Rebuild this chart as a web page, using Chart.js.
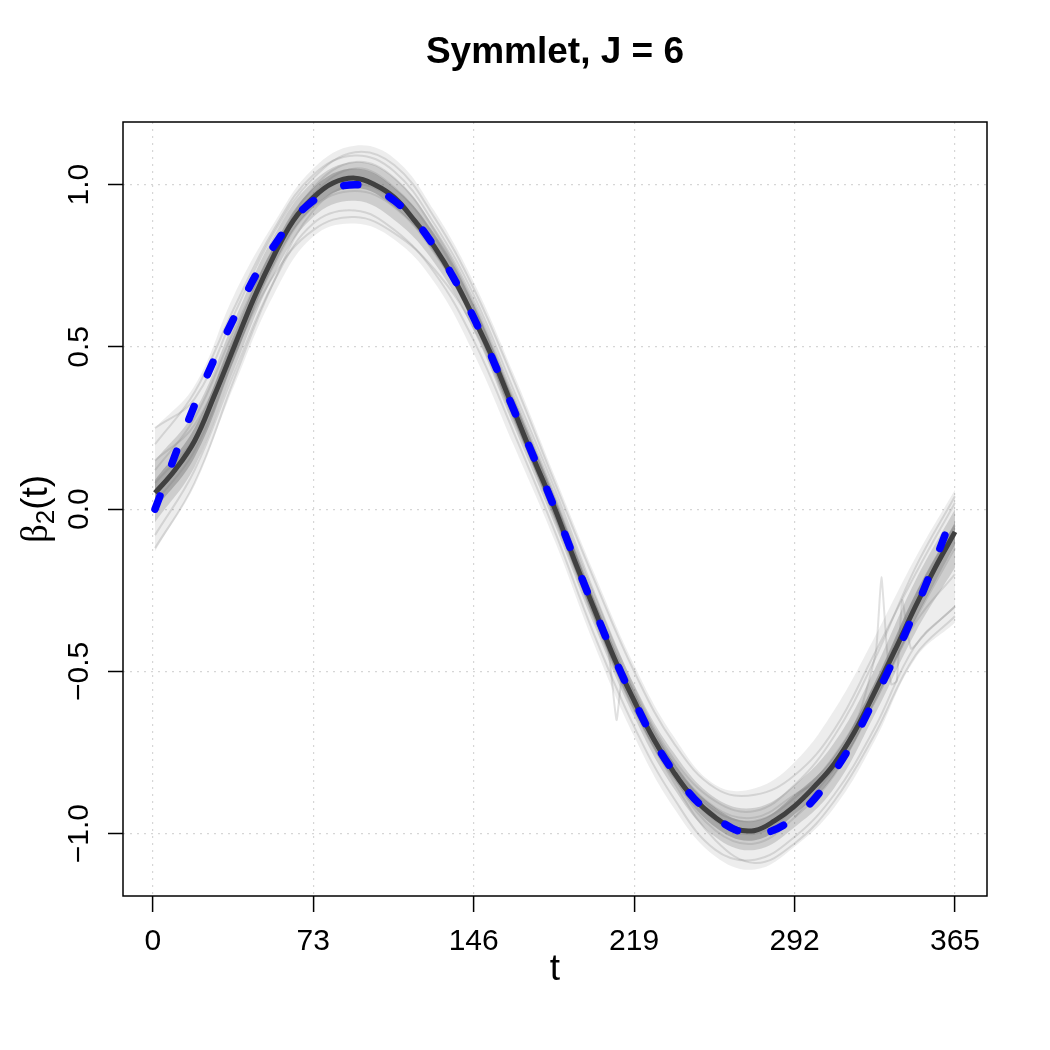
<!DOCTYPE html>
<html>
<head>
<meta charset="utf-8">
<script src="https://cdn.jsdelivr.net/npm/chart.js@4.4.0/dist/chart.umd.min.js"></script>
<style>
  html, body { margin: 0; padding: 0; background: #fff; }
  canvas { display: block; }
</style>
</head>
<body>
<canvas id="betaChart" width="1050" height="1050"></canvas>
<script>
// sample points along t (days)
const tGrid = [1, 19, 37, 55, 73, 92, 110, 128, 146, 164, 183, 201, 219, 237, 256, 274, 292, 310, 328, 347, 365];
const tFine = [1, 10, 19, 28, 37, 46, 55, 64, 73, 82, 92, 101, 110, 119, 128, 137, 146, 155, 164, 173, 183,
               192, 201, 210, 219, 228, 237, 246, 256, 265, 274, 283, 292, 301, 310, 319, 328, 338, 347, 356, 365];
const xTicks = [0, 73, 146, 219, 292, 365];
const yTicks = [-1.0, -0.5, 0.0, 0.5, 1.0];

// true beta_2(t), blue dashed (on tGrid)
const trueBeta = [0.00, 0.32, 0.59, 0.81, 0.95, 1.00, 0.95, 0.81, 0.59, 0.31, 0.00, -0.31, -0.59, -0.81, -0.95, -1.00, -0.95, -0.81, -0.59, -0.31, 0.00];
// mean of the estimates, dark grey (on tFine)
const meanBeta = [0.05, 0.12, 0.21, 0.35, 0.50, 0.65, 0.78, 0.89, 0.96, 1.005, 1.02, 1.00, 0.96, 0.89, 0.81, 0.71, 0.59, 0.46, 0.31, 0.16, 0.00,
                  -0.16, -0.31, -0.46, -0.59, -0.71, -0.81, -0.89, -0.95, -0.985, -0.99, -0.96, -0.915, -0.855, -0.785, -0.69, -0.57, -0.43, -0.30, -0.18, -0.07];

// spread of the replicate estimates (outer / middle / inner), on tGrid
const outerUpper = [0.25, 0.38, 0.66, 0.88, 1.05, 1.12, 1.08, 0.92, 0.70, 0.42, 0.10, -0.20, -0.48, -0.70, -0.85, -0.86, -0.78, -0.62, -0.40, -0.15, 0.06];
const outerLower = [-0.13, 0.08, 0.38, 0.66, 0.84, 0.88, 0.83, 0.70, 0.48, 0.20, -0.10, -0.42, -0.70, -0.92, -1.07, -1.11, -1.04, -0.92, -0.72, -0.46, -0.35];
const midUpper = [0.15, 0.30, 0.58, 0.84, 1.01, 1.07, 1.02, 0.87, 0.65, 0.36, 0.05, -0.26, -0.54, -0.75, -0.89, -0.92, -0.85, -0.72, -0.50, -0.22, 0.00];
const midLower = [-0.04, 0.13, 0.43, 0.72, 0.90, 0.95, 0.89, 0.76, 0.55, 0.26, -0.05, -0.36, -0.64, -0.86, -1.01, -1.05, -0.98, -0.86, -0.64, -0.38, -0.18];
const innerUpper = [0.09, 0.25, 0.54, 0.81, 0.99, 1.05, 0.99, 0.85, 0.63, 0.34, 0.03, -0.28, -0.56, -0.78, -0.92, -0.96, -0.88, -0.76, -0.54, -0.26, -0.04];
const innerLower = [0.00, 0.16, 0.46, 0.75, 0.93, 0.99, 0.93, 0.79, 0.57, 0.28, -0.03, -0.34, -0.62, -0.83, -0.98, -1.02, -0.94, -0.82, -0.60, -0.34, -0.11];

// a few individual replicate curves
const rep1 = [0.20, 0.36, 0.62, 0.86, 1.03, 1.09, 1.04, 0.88, 0.66, 0.37, 0.06, -0.26, -0.55, -0.77, -0.90, -0.93, -0.85, -0.70, -0.47, -0.18, 0.04];
const rep2 = [-0.08, 0.12, 0.42, 0.70, 0.88, 0.92, 0.86, 0.73, 0.52, 0.24, -0.07, -0.39, -0.67, -0.89, -1.05, -1.08, -1.01, -0.88, -0.68, -0.42, -0.30];
const rep3 = [0.12, 0.28, 0.55, 0.80, 0.97, 1.05, 0.99, 0.84, 0.62, 0.33, 0.02, -0.29, -0.58, -0.79, -0.93, -0.96, -0.89, -0.76, -0.55, -0.27, -0.05];
const rep4 = [0.02, 0.18, 0.47, 0.75, 0.93, 0.98, 0.93, 0.79, 0.58, 0.29, -0.03, -0.34, -0.62, -0.83, -0.99, -1.03, -0.95, -0.82, -0.60, -0.34, -0.12];
const rep5 = [0.25, 0.34, 0.60, 0.85, 1.02, 1.10, 1.06, 0.90, 0.68, 0.40, 0.08, -0.22, -0.50, -0.72, -0.86, -0.88, -0.82, -0.68, -0.45, -0.20, 0.02];
const rep6 = [0.08, 0.22, 0.48, 0.72, 0.86, 0.90, 0.85, 0.74, 0.56, 0.28, -0.02, -0.33, -0.61, -0.84, -1.02, -1.09, -1.03, -0.90, -0.70, -0.45, -0.33];
const rep7 = [-0.12, 0.08, 0.40, 0.70, 0.92, 1.00, 0.95, 0.81, 0.59, 0.30, -0.01, -0.32, -0.60, -0.81, -0.96, -1.00, -0.92, -0.78, -0.56, -0.28, -0.08];
const rep8 = [0.15, 0.26, 0.52, 0.79, 0.99, 1.07, 1.02, 0.86, 0.63, 0.34, 0.03, -0.28, -0.56, -0.78, -0.92, -0.95, -0.88, -0.80, -0.60, -0.35, -0.20];

// replicates with small glitches
const spikeAT = [164, 183, 200, 207, 211, 214, 222, 237];
const spikeAV = [0.34, 0.03, -0.28, -0.42, -0.65, -0.50, -0.61, -0.79];
const spikeBT = [292, 310, 322, 329, 331.5, 334, 336, 338.5, 341, 345, 352, 365];
const spikeBV = [-0.95, -0.80, -0.62, -0.44, -0.21, -0.43, -0.54, -0.53, -0.28, -0.43, -0.38, -0.30];

const FONT = '"Liberation Sans", Arial, Helvetica, sans-serif';

function pts(ts, vs) {
    return ts.map((t, i) => ({ x: t, y: vs[i] }));
}

function line(data, color, width, order, extra) {
    return Object.assign({
        data: data,
        borderColor: color,
        borderWidth: width,
        pointRadius: 0,
        tension: 0.4,
        fill: false,
        order: order
    }, extra || {});
}

const datasets = [];

// bands: lower edge, then upper edge filled down to it
function band(lower, upper, color, order) {
    const idx = datasets.length;
    datasets.push(line(pts(tGrid, lower), 'rgba(0,0,0,0)', 0, order));
    datasets.push(line(pts(tGrid, upper), 'rgba(0,0,0,0)', 0, order,
        { fill: { target: idx }, backgroundColor: color }));
}
band(outerLower, outerUpper, 'rgba(110,110,110,0.12)', 5);
band(midLower, midUpper, 'rgba(110,110,110,0.25)', 4);
band(innerLower, innerUpper, 'rgba(110,110,110,0.40)', 3);

[rep1, rep2, rep3, rep4, rep5, rep6, rep7, rep8].forEach(r => {
    datasets.push(line(pts(tGrid, r), 'rgba(120,120,120,0.22)', 2, 2));
});
datasets.push(line(pts(spikeAT, spikeAV), 'rgba(120,120,120,0.22)', 2, 2, { tension: 0.15 }));
datasets.push(line(pts(spikeBT, spikeBV), 'rgba(120,120,120,0.22)', 2, 2, { tension: 0.15 }));

datasets.push(line(pts(tFine, meanBeta), '#404040', 5, 1));
datasets.push(line(pts(tGrid, trueBeta), '#0000ff', 7.5, 0,
    { borderDash: [14, 34], borderCapStyle: 'round' }));

// box, title, rotated y labels and axis titles in R style
const rFrame = {
    id: 'rFrame',
    afterDraw(chart) {
        const { ctx, chartArea: a, scales } = chart;
        const cx = (a.left + a.right) / 2;
        ctx.save();
        ctx.strokeStyle = '#000';
        ctx.lineWidth = 1.5;
        ctx.strokeRect(a.left, a.top, a.right - a.left, a.bottom - a.top);

        ctx.fillStyle = '#000';
        ctx.textAlign = 'center';
        ctx.textBaseline = 'alphabetic';
        ctx.font = 'bold 37px ' + FONT;
        ctx.fillText('Symmlet, J = 6', cx, 63);

        ctx.font = '37px ' + FONT;
        ctx.fillText('t', cx, 980);

        ctx.font = '30px ' + FONT;
        yTicks.forEach(v => {
            const y = scales.y.getPixelForValue(v);
            ctx.save();
            ctx.translate(88, y);
            ctx.rotate(-Math.PI / 2);
            ctx.fillText(v.toFixed(1).replace('-', '\u2212'), 0, 0);
            ctx.restore();
        });

        // beta_2(t)
        const parts = [
            { s: '\u03b2', f: '37px "Liberation Serif", "DejaVu Serif", serif', dy: 0 },
            { s: '2', f: '26px ' + FONT, dy: 7 },
            { s: '(t)', f: '37px ' + FONT, dy: 0 }
        ];
        let total = 0;
        parts.forEach(p => { ctx.font = p.f; p.w = ctx.measureText(p.s).width; total += p.w; });
        ctx.save();
        ctx.translate(47, (a.top + a.bottom) / 2);
        ctx.rotate(-Math.PI / 2);
        ctx.textAlign = 'left';
        let x = -total / 2;
        parts.forEach(p => {
            ctx.font = p.f;
            ctx.fillText(p.s, x, p.dy);
            x += p.w;
        });
        ctx.restore();
        ctx.restore();
    }
};

// dotted light grid, solid black tick marks
const gridStyle = {
    color: '#d6d6d6',
    lineWidth: 1.2,
    drawTicks: true,
    tickColor: '#000',
    tickWidth: 1.5,
    tickBorderDash: [1, 0]
};
const borderStyle = { display: false, dash: [2, 5] };

new Chart(document.getElementById('betaChart'), {
    type: 'line',
    data: { datasets: datasets },
    options: {
        responsive: false,
        devicePixelRatio: 1,
        animation: false,
        layout: { padding: { top: 122, right: 63, bottom: 0, left: 0 } },
        plugins: {
            legend: { display: false },
            tooltip: { enabled: false },
            title: { display: false }
        },
        scales: {
            x: {
                type: 'linear',
                min: -13.56,
                max: 379.56,
                border: borderStyle,
                grid: Object.assign({}, gridStyle, { tickLength: 16 }),
                ticks: {
                    color: '#000',
                    font: { size: 30, family: FONT },
                    padding: 12,
                    maxRotation: 0,
                    autoSkip: false,
                    callback: v => String(v)
                },
                afterBuildTicks: s => { s.ticks = xTicks.map(v => ({ value: v })); },
                afterFit: s => { s.height = 154; }
            },
            y: {
                type: 'linear',
                min: -1.192,
                max: 1.193,
                border: borderStyle,
                grid: Object.assign({}, gridStyle, { tickLength: 15 }),
                ticks: { display: false },
                afterBuildTicks: s => { s.ticks = yTicks.map(v => ({ value: v })); },
                afterFit: s => { s.width = 123; }
            }
        }
    },
    plugins: [rFrame]
});
</script>
</body>
</html>
